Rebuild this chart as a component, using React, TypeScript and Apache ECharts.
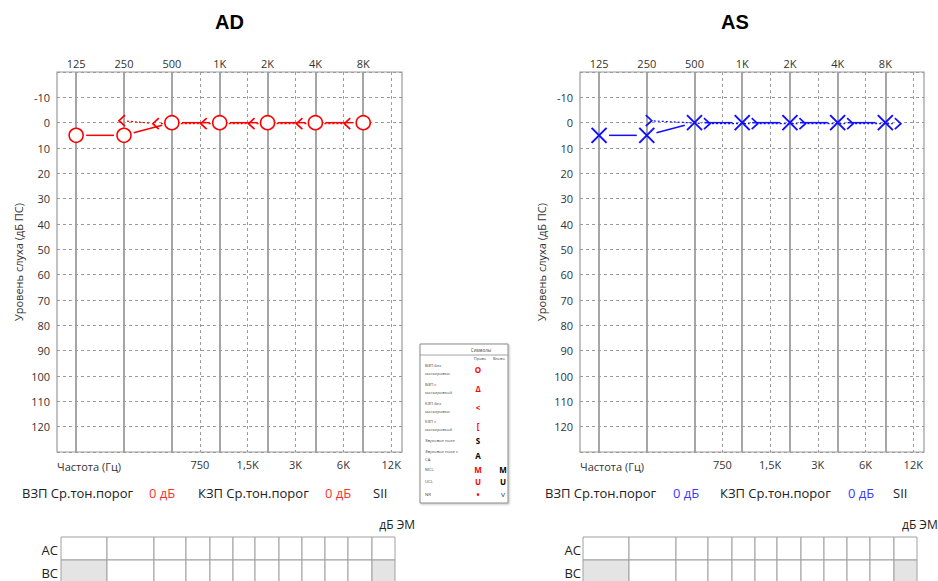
import React, { useEffect, useRef } from 'react';
import * as echarts from 'echarts';

// ---------------- data ----------------
const FREQS = [125, 250, 500, 1000, 2000, 4000, 8000];
const FREQ_LABELS = ['125', '250', '500', '1K', '2K', '4K', '8K'];
const HALF_FREQS = [750, 1500, 3000, 6000, 12000];
const HALF_LABELS = ['750', '1,5K', '3K', '6K', '12K'];

const AD_AIR = [5, 5, 0, 0, 0, 0, 0];
const AD_BONE_FREQS = [250, 500, 1000, 2000, 4000, 8000];
const AD_BONE = [0, 0, 0, 0, 0, 0];

const AS_AIR = [5, 5, 0, 0, 0, 0, 0];
const AS_BONE_FREQS = [250, 500, 1000, 2000, 4000, 8000];
const AS_BONE = [0, 0, 0, 0, 0, 0];

const STAT_LABELS = ['ВЗП Ср.тон.порог', 'КЗП Ср.тон.порог', 'SII'];
const AD_PTA = [0, 0];
const AS_PTA = [0, 0];

const TABLE_ROWS = ['AC', 'BC'];
const TABLE_FREQS = [125, 250, 500, 750, 1000, 1500, 2000, 3000, 4000, 6000, 8000, 12000];
const BC_DISABLED = [125, 12000];

const LEGEND_TITLE = 'Символы';
const LEGEND_COLS = ['Право', 'Влево'];
const LEGEND_LABELS = [
  'ВЗП без\nмаскировки',
  'ВЗП с\nмаскировкой',
  'КЗП без\nмаскировки',
  'КЗП с\nмаскировкой',
  'Звуковое поле',
  'Звуковое поле с\nСА',
  'MCL',
  'UCL',
  'NR',
];
const LEGEND_RIGHT = ['O', 'Δ', '<', '[', 'S', 'A', 'M', 'U', '•'];
const LEGEND_LEFT = ['', '', '', '', '', '', 'M', 'U', '˅'];
const LEGEND_RIGHT_RED = [true, true, true, true, false, false, true, true, true];

// ---------------- layout / style ----------------
const FONT = 'Open Sans';
const RED = '#ff0000';
const BLUE = '#1010ff';
const XMIN = -0.4;
const XMAX = 6.81;
const GRID_TOP = 72;
const GRID_H = 380;
const COL_W = [46, 47, 32, 24, 23, 22, 24, 23, 23, 23, 24, 23];
const LEGEND_ROW_Y = [369, 388, 407, 425, 440, 455, 469, 481.5, 494];

const oct = (f: number) => Math.log2(f / 125);

const PANELS = [
  {
    title: 'AD', color: RED, statColor: '#ff3030', gridLeft: 57, gridWidth: 345, titleX: 229.5,
    statX: [22, 149, 198, 325, 373], pta: AD_PTA, dbemX: 415, dbemAlign: 'right',
    tableX: 61, rowLabelX: 58,
    air: AD_AIR, boneF: AD_BONE_FREQS, bone: AD_BONE, airKind: 'circle', boneDir: -1,
  },
  {
    title: 'AS', color: BLUE, statColor: '#3a3aff', gridLeft: 580, gridWidth: 344, titleX: 735,
    statX: [545, 673, 720, 848, 893], pta: AS_PTA, dbemX: 902, dbemAlign: 'left',
    tableX: 583, rowLabelX: 581,
    air: AS_AIR, boneF: AS_BONE_FREQS, bone: AS_BONE, airKind: 'cross', boneDir: 1,
  },
];

function seg(p: number[], q: number[], s1: number, s2: number, style: any) {
  const dx = q[0] - p[0];
  const dy = q[1] - p[1];
  const L = Math.hypot(dx, dy) || 1;
  const ux = dx / L;
  const uy = dy / L;
  return {
    type: 'line',
    shape: { x1: p[0] + ux * s1, y1: p[1] + uy * s1, x2: q[0] - ux * s2, y2: q[1] - uy * s2 },
    style,
  };
}

function airSeries(idx: number, panel: any) {
  const pts = FREQS.map((f, i) => [oct(f), panel.air[i]]);
  const color = panel.color;
  return {
    type: 'custom',
    xAxisIndex: idx * 2,
    yAxisIndex: idx,
    data: pts,
    z: 4,
    silent: true,
    renderItem: (params: any, api: any) => {
      const i = params.dataIndex;
      const p = api.coord([api.value(0), api.value(1)]);
      const children: any[] = [];
      if (i < pts.length - 1) {
        const q = api.coord(pts[i + 1]);
        children.push(seg(p, q, 10, 10, { stroke: color, lineWidth: 1.5 }));
      }
      if (panel.airKind === 'circle') {
        children.push({
          type: 'circle',
          shape: { cx: p[0], cy: p[1], r: 7 },
          style: { fill: '#fff', stroke: color, lineWidth: 1.6 },
        });
      } else {
        const h = 7.5;
        children.push({ type: 'line', shape: { x1: p[0] - h, y1: p[1] - h, x2: p[0] + h, y2: p[1] + h }, style: { stroke: color, lineWidth: 2 } });
        children.push({ type: 'line', shape: { x1: p[0] - h, y1: p[1] + h, x2: p[0] + h, y2: p[1] - h }, style: { stroke: color, lineWidth: 2 } });
      }
      return { type: 'group', children };
    },
  };
}

function boneSeries(idx: number, panel: any) {
  const pts = panel.boneF.map((f: number, i: number) => [oct(f), panel.bone[i]]);
  const dir = panel.boneDir;
  const color = panel.color;
  // symbol nudged sideways when it would collide with the air-conduction symbol
  const offs = panel.boneF.map((f: number, i: number) => {
    const j = FREQS.indexOf(f);
    const collide = j >= 0 && panel.air[j] === panel.bone[i];
    return collide ? [dir * (dir < 0 ? 16 : 12.5), 1] : [dir * 2, -2];
  });
  const at = (api: any, i: number) => {
    const c = api.coord(pts[i]);
    return [c[0] + offs[i][0], c[1] + offs[i][1]];
  };
  return {
    type: 'custom',
    xAxisIndex: idx * 2,
    yAxisIndex: idx,
    data: pts,
    z: 3,
    silent: true,
    renderItem: (params: any, api: any) => {
      const i = params.dataIndex;
      const p = at(api, i);
      const children: any[] = [];
      if (i < pts.length - 1) {
        const q = at(api, i + 1);
        children.push(seg(p, q, 5, 5, { stroke: color, lineWidth: 1.2, lineDash: [2, 2] }));
      }
      const w = 3;
      const h = 5.5;
      const pointsL = [[p[0] + w, p[1] - h], [p[0] - w, p[1]], [p[0] + w, p[1] + h]];
      const pointsR = [[p[0] - w, p[1] - h], [p[0] + w, p[1]], [p[0] - w, p[1] + h]];
      children.push({
        type: 'polyline',
        shape: { points: dir < 0 ? pointsL : pointsR },
        style: { stroke: color, lineWidth: 1.7, fill: null },
      });
      return { type: 'group', children };
    },
  };
}

function labelFinder(values: number[], labels: string[]) {
  return (v: number) => {
    for (let i = 0; i < values.length; i++) {
      if (Math.abs(values[i] - v) < 1e-6) return labels[i];
    }
    return '';
  };
}

function txt(x: number, y: number, text: string, opts: any = {}) {
  return {
    type: 'text',
    x,
    y,
    silent: true,
    z: opts.z || 10,
    style: {
      text,
      fill: opts.fill || '#222',
      fontSize: opts.fontSize || 13,
      fontFamily: opts.fontFamily || FONT,
      fontWeight: opts.fontWeight || 'normal',
      align: opts.align || 'left',
      verticalAlign: opts.verticalAlign || 'middle',
    },
  };
}

function buildOption() {
  const grids: any[] = [];
  const xAxes: any[] = [];
  const yAxes: any[] = [];
  const series: any[] = [];
  const graphics: any[] = [];
  const octVals = FREQS.map(oct);
  const halfVals = HALF_FREQS.map(oct);

  PANELS.forEach((panel, idx) => {
    grids.push({
      left: panel.gridLeft,
      top: GRID_TOP,
      width: panel.gridWidth,
      height: GRID_H,
      show: true,
      borderColor: '#9a9a9a',
      borderWidth: 1.2,
      backgroundColor: 'transparent',
      containLabel: false,
      outerBoundsMode: 'none',
    });
    xAxes.push({
      type: 'value',
      gridIndex: idx,
      position: 'top',
      min: XMIN,
      max: XMAX,
      axisLine: { show: false },
      axisTick: { show: false, customValues: octVals },
      axisLabel: {
        customValues: octVals,
        formatter: labelFinder(octVals, FREQ_LABELS),
        color: '#333',
        fontSize: 11,
        fontFamily: FONT,
        margin: 3,
      },
      splitLine: { show: true, lineStyle: { color: '#9c9c9c', width: 1.8, type: 'solid' } },
    });
    xAxes.push({
      type: 'value',
      gridIndex: idx,
      position: 'bottom',
      min: XMIN,
      max: XMAX,
      axisLine: { show: false },
      axisTick: { show: false, customValues: halfVals },
      axisLabel: {
        customValues: halfVals,
        formatter: labelFinder(halfVals, HALF_LABELS),
        color: '#333',
        fontSize: 11,
        fontFamily: FONT,
        margin: 7,
      },
      splitLine: { show: true, lineStyle: { color: '#9a9a9a', width: 1, type: [3, 3] } },
    });
    yAxes.push({
      type: 'value',
      gridIndex: idx,
      inverse: true,
      min: -20,
      max: 130,
      interval: 10,
      axisLine: { show: false },
      axisTick: { show: false },
      axisLabel: {
        showMinLabel: false,
        showMaxLabel: false,
        color: '#333',
        fontSize: 11,
        fontFamily: FONT,
        margin: 7,
      },
      splitLine: { show: true, lineStyle: { color: '#9a9a9a', width: 1, type: [3, 3] } },
      name: 'Уровень слуха (дБ ПС)',
      nameLocation: 'middle',
      nameGap: 33,
      nameMoveOverlap: false,
      nameTextStyle: { color: '#333', fontSize: 11, fontFamily: FONT },
    });
    series.push(boneSeries(idx, panel));
    series.push(airSeries(idx, panel));

    // title
    graphics.push(txt(panel.titleX, 22, panel.title, { fontSize: 20, fontWeight: 'bold', fontFamily: 'Liberation Sans', fill: '#000', align: 'center' }));
    // frequency caption
    graphics.push(txt(panel.gridLeft, 466, 'Частота (Гц)', { fontSize: 11, fill: '#333' }));
    // stats row
    const sx = panel.statX;
    graphics.push(txt(sx[0], 493, STAT_LABELS[0], { fontSize: 13 }));
    graphics.push(txt(sx[1], 493, `${panel.pta[0]} дБ`, { fontSize: 13, fill: panel.statColor }));
    graphics.push(txt(sx[2], 493, STAT_LABELS[1], { fontSize: 13 }));
    graphics.push(txt(sx[3], 493, `${panel.pta[1]} дБ`, { fontSize: 13, fill: panel.statColor }));
    graphics.push(txt(sx[4], 493, STAT_LABELS[2], { fontSize: 13 }));
    // dB EM
    graphics.push(txt(panel.dbemX, 524, 'дБ ЭМ', { fontSize: 12, align: panel.dbemAlign }));
    // masking table
    const rowTop = 537;
    const rowH = 23;
    TABLE_ROWS.forEach((row, r) => {
      const y = rowTop + r * rowH;
      graphics.push(txt(panel.rowLabelX, y + rowH / 2 + 1, row, { fontSize: 13, align: 'right' }));
      let x = panel.tableX;
      TABLE_FREQS.forEach((f, c) => {
        const w = COL_W[c];
        const disabled = row === 'BC' && BC_DISABLED.indexOf(f) >= 0;
        graphics.push({
          type: 'rect',
          silent: true,
          z: 5,
          shape: { x, y, width: w, height: rowH },
          style: { fill: disabled ? '#e4e4e4' : '#fff', stroke: '#a0a0a0', lineWidth: 1 },
        });
        x += w;
      });
    });
  });

  // symbol legend box
  const lx = 420;
  const ly = 344;
  const lw = 88;
  const lh = 159;
  graphics.push({
    type: 'rect',
    silent: true,
    z: 6,
    shape: { x: lx, y: ly, width: lw, height: lh },
    style: { fill: '#fff', stroke: '#8a8a8a', lineWidth: 1, shadowBlur: 2, shadowColor: 'rgba(0,0,0,0.25)', shadowOffsetX: 1, shadowOffsetY: 1 },
  });
  graphics.push({
    type: 'line',
    silent: true,
    z: 7,
    shape: { x1: lx, y1: 355, x2: lx + lw, y2: 355 },
    style: { stroke: '#8a8a8a', lineWidth: 0.8 },
  });
  graphics.push(txt(481, 349.5, LEGEND_TITLE, { fontSize: 4.5, fill: '#444', align: 'center', z: 8 }));
  graphics.push(txt(480, 358, LEGEND_COLS[0], { fontSize: 4, fill: '#444', align: 'center', z: 8 }));
  graphics.push(txt(493, 358, LEGEND_COLS[1], { fontSize: 4, fill: '#444', align: 'left', z: 8 }));
  LEGEND_LABELS.forEach((lab, i) => {
    const y = LEGEND_ROW_Y[i];
    const lines = lab.split('\n');
    lines.forEach((ln, k) => {
      const ly2 = lines.length === 1 ? y : y - 4 + k * 8.5;
      graphics.push(txt(425, ly2, ln, { fontSize: 4.2, fill: '#444', z: 8 }));
    });
    graphics.push(txt(478, y, LEGEND_RIGHT[i], { fontSize: 8, fontWeight: 'bold', fill: LEGEND_RIGHT_RED[i] ? RED : '#000', align: 'center', z: 8 }));
    if (LEGEND_LEFT[i]) {
      graphics.push(txt(503, y, LEGEND_LEFT[i], { fontSize: 8, fontWeight: 'bold', fill: '#000', align: 'center', z: 8 }));
    }
  });

  return {
    animation: false,
    backgroundColor: '#fff',
    grid: grids,
    xAxis: xAxes,
    yAxis: yAxes,
    series,
    graphic: { elements: graphics },
  };
}

export default function App() {
  const ref = useRef<HTMLDivElement>(null);
  useEffect(() => {
    document.body.style.margin = '0';
    if (!ref.current) return;
    const chart = echarts.init(ref.current, undefined, { renderer: 'svg' });
    chart.setOption(buildOption() as any);
    return () => chart.dispose();
  }, []);
  return <div ref={ref} style={{ width: 938, height: 581, position: 'absolute', left: 0, top: 0 }} />;
}
